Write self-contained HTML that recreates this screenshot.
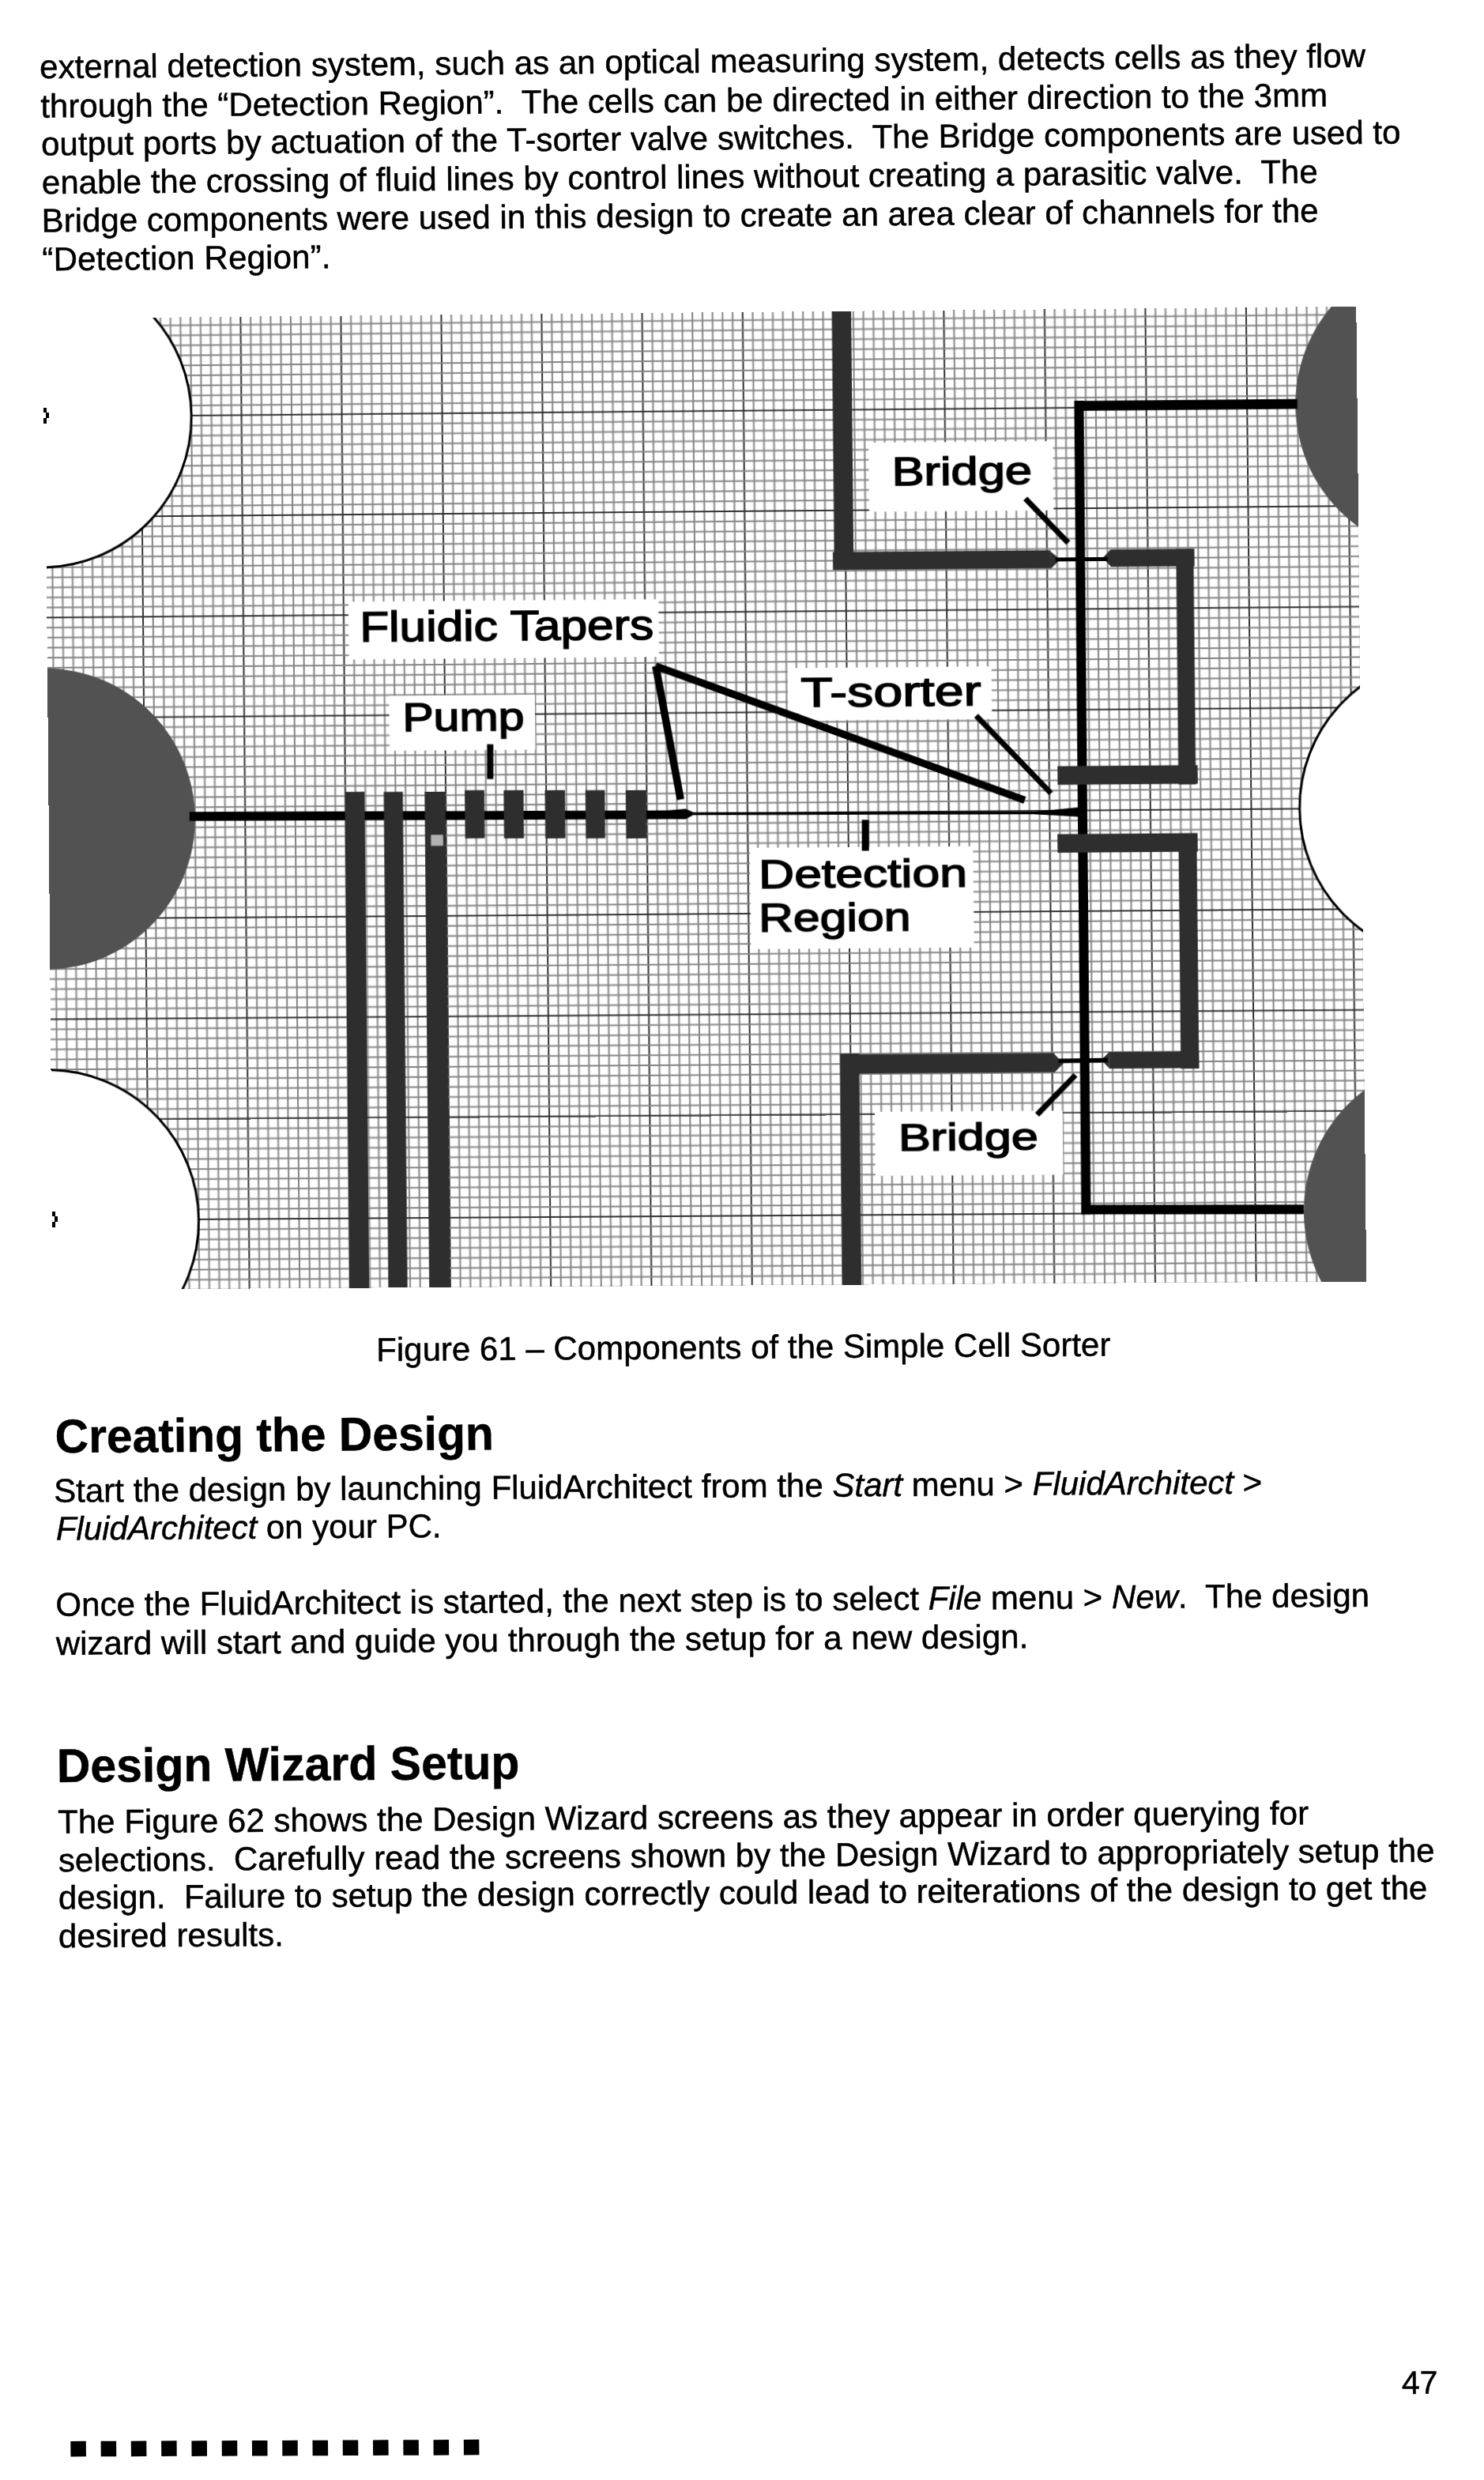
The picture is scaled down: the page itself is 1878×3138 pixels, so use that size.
<!DOCTYPE html>
<html><head><meta charset="utf-8"><title>Page 47</title>
<style>
html,body{margin:0;padding:0;background:#fff;}
body{width:1878px;height:3138px;overflow:hidden;position:relative;}
svg{display:block;overflow:visible;}
text{fill:#000;white-space:pre;}
.bt{stroke:#000;stroke-width:0.5px;}
.lt{stroke:#000;stroke-width:1.5px;}
</style>
</head><body>
<div id="fig" style="position:absolute;left:56.2px;top:403.2px;width:1661px;height:1231px;transform-origin:0 0;transform:matrix3d(0.9958419493,-0.009116905156,0,-2.250567851e-06,0.008925869559,0.9973442069,0,-9.049975988e-07,0,0,1,0,0,0,0,1);"><svg width="1661" height="1231" viewBox="0 0 1661 1231" font-family='"Liberation Sans", sans-serif'><defs>
<pattern id="grid" x="-6.2" y="-3.5" width="127.27" height="127.27" patternUnits="userSpaceOnUse"><rect width="127.27" height="127.27" fill="#fff"/><rect x="0.000" y="0" width="2" height="127.27" fill="#303030"/><rect x="12.727" y="0" width="2" height="127.27" fill="#838383"/><rect x="25.454" y="0" width="2" height="127.27" fill="#838383"/><rect x="38.181" y="0" width="2" height="127.27" fill="#838383"/><rect x="50.908" y="0" width="2" height="127.27" fill="#838383"/><rect x="63.635" y="0" width="2" height="127.27" fill="#838383"/><rect x="76.362" y="0" width="2" height="127.27" fill="#838383"/><rect x="89.089" y="0" width="2" height="127.27" fill="#838383"/><rect x="101.816" y="0" width="2" height="127.27" fill="#838383"/><rect x="114.543" y="0" width="2" height="127.27" fill="#838383"/><rect x="0" y="0.000" width="127.27" height="2" fill="#303030"/><rect x="0" y="12.727" width="127.27" height="2" fill="#838383"/><rect x="0" y="25.454" width="127.27" height="2" fill="#838383"/><rect x="0" y="38.181" width="127.27" height="2" fill="#838383"/><rect x="0" y="50.908" width="127.27" height="2" fill="#838383"/><rect x="0" y="63.635" width="127.27" height="2" fill="#838383"/><rect x="0" y="76.362" width="127.27" height="2" fill="#838383"/><rect x="0" y="89.089" width="127.27" height="2" fill="#838383"/><rect x="0" y="101.816" width="127.27" height="2" fill="#838383"/><rect x="0" y="114.543" width="127.27" height="2" fill="#838383"/><rect x="0" y="0" width="2" height="2" fill="#303030"/></pattern>
<clipPath id="fclip"><rect x="0" y="0" width="1661" height="1231"/></clipPath>
</defs><rect x="0" y="0" width="1661" height="1231" fill="url(#grid)"/>
<g clip-path="url(#fclip)">
<circle cx="-5.2" cy="124.8" r="191.0" fill="#fff" stroke="#000" stroke-width="3"/>
<circle cx="-5.2" cy="634.5" r="191.0" fill="#525252"/>
<circle cx="-5.2" cy="1143.5" r="191.0" fill="#fff" stroke="#000" stroke-width="3"/>
<circle cx="1774.0" cy="124.8" r="191.0" fill="#525252"/>
<circle cx="1774.0" cy="634.5" r="191.0" fill="#fff" stroke="#000" stroke-width="3"/>
<circle cx="1774.0" cy="1143.5" r="191.0" fill="#525252"/>
</g>
<polygon points="178.8,627.0 784.6,629.8 807.6,628.0 820.6,634.0 807.5,641.1 784.5,640.8 178.7,638.5" fill="#000"/>
<line x1="817.6" y1="634.2" x2="1245.1" y2="636.5" stroke="#000" stroke-width="3.5" stroke-linecap="butt"/>
<polygon points="1243.1,635.3 1306.0,629.7 1305.9,641.9 1243.1,637.9" fill="#000"/>
<line x1="1309.8" y1="116.0" x2="1308.4" y2="1144.3" stroke="#000" stroke-width="12" stroke-linecap="butt"/>
<line x1="1304.2" y1="122.5" x2="1585.5" y2="122.4" stroke="#000" stroke-width="12.5" stroke-linecap="butt"/>
<line x1="1302.9" y1="1138.0" x2="1582.9" y2="1139.6" stroke="#000" stroke-width="12" stroke-linecap="butt"/>
<g clip-path="url(#fclip)"><rect x="376.0" y="603.2" width="25.0" height="638.0" fill="#2e2e2e"/><rect x="425.3" y="603.6" width="24.3" height="638.0" fill="#2e2e2e"/><rect x="477.2" y="603.9" width="26.3" height="638.0" fill="#2e2e2e"/><rect x="528.0" y="602.3" width="24.8" height="61.0" fill="#2e2e2e"/><rect x="577.3" y="602.7" width="25.2" height="61.0" fill="#2e2e2e"/><rect x="629.5" y="603.1" width="25.4" height="61.0" fill="#2e2e2e"/><rect x="680.8" y="603.5" width="24.6" height="61.0" fill="#2e2e2e"/><rect x="731.9" y="603.9" width="25.9" height="61.0" fill="#2e2e2e"/><rect x="484.6" y="658.4" width="15.5" height="14.0" fill="#b0b0b0"/><rect x="998.5" y="-13.9" width="24.5" height="340.4" fill="#2e2e2e"/><rect x="996.8" y="304.7" width="275.1" height="22.8" fill="#2e2e2e"/><polygon points="1271.8,305.9 1284.2,316.4 1271.5,328.7" fill="#2e2e2e"/><rect x="1348.0" y="304.4" width="105.6" height="22.0" fill="#2e2e2e"/><polygon points="1348.2,303.9 1338.1,314.8 1348.0,325.9" fill="#2e2e2e"/><rect x="1430.5" y="304.5" width="22.0" height="297.6" fill="#2e2e2e"/><rect x="1278.0" y="577.7" width="176.9" height="23.6" fill="#2e2e2e"/><rect x="1277.1" y="663.6" width="176.9" height="23.5" fill="#2e2e2e"/><rect x="1429.8" y="663.9" width="23.0" height="297.0" fill="#2e2e2e"/><rect x="1339.5" y="939.3" width="113.5" height="21.0" fill="#2e2e2e"/><polygon points="1339.8,938.9 1329.7,949.3 1339.6,959.9" fill="#2e2e2e"/><rect x="999.6" y="939.0" width="24.3" height="306.4" fill="#2e2e2e"/><rect x="1000.8" y="940.1" width="269.5" height="24.2" fill="#2e2e2e"/><polygon points="1270.1,941.0 1281.8,953.2 1269.9,965.2" fill="#2e2e2e"/><line x1="1278.2" y1="316.5" x2="1344.1" y2="316.5" stroke="#000" stroke-width="5.2" stroke-linecap="butt"/><line x1="1275.8" y1="950.0" x2="1337.7" y2="949.5" stroke="#000" stroke-width="5.5" stroke-linecap="butt"/></g>
<rect x="382.7" y="362.5" width="393.0" height="73.0" fill="#fff"/>
<rect x="433.3" y="482.1" width="184.7" height="69.5" fill="#fff"/>
<rect x="938.3" y="451.0" width="257.6" height="66.5" fill="#fff"/>
<rect x="1043.4" y="166.6" width="233.0" height="87.6" fill="#fff"/>
<rect x="888.4" y="678.0" width="282.0" height="128.0" fill="#fff"/>
<rect x="1042.9" y="1012.8" width="237.2" height="80.9" fill="#fff"/>
<text class="lt" x="0" y="0" font-size="53.4" textLength="372.3" lengthAdjust="spacingAndGlyphs" transform="translate(396.9 412.9) scale(1.0 1)">Fluidic Tapers</text>
<text class="lt" x="0" y="0" font-size="49.6" textLength="154.4" lengthAdjust="spacingAndGlyphs" transform="translate(449.9 527.1) scale(1.0 1)">Pump</text>
<text class="lt" x="0" y="0" font-size="52.4" textLength="228.0" lengthAdjust="spacingAndGlyphs" transform="translate(954.5 499.9) scale(1.0 1)">T-sorter</text>
<text class="lt" x="0" y="0" font-size="50.4" textLength="177.3" lengthAdjust="spacingAndGlyphs" transform="translate(1072.4 221.2) scale(1.0 1)">Bridge</text>
<text class="lt" x="0" y="0" font-size="50.8" textLength="263.5" lengthAdjust="spacingAndGlyphs" transform="translate(899.1 728.8) scale(1.0 1)">Detection</text>
<text class="lt" x="0" y="0" font-size="50.8" textLength="192.1" lengthAdjust="spacingAndGlyphs" transform="translate(898.6 784.0) scale(1.0 1)">Region</text>
<text class="lt" x="0" y="0" font-size="48.3" textLength="176.5" lengthAdjust="spacingAndGlyphs" transform="translate(1072.4 1061.8) scale(1.0 1)">Bridge</text>
<line x1="560.8" y1="544.4" x2="560.4" y2="588.4" stroke="#000" stroke-width="8" stroke-linecap="butt"/>
<line x1="771.4" y1="447.1" x2="801.2" y2="616.1" stroke="#000" stroke-width="9.5" stroke-linecap="butt"/>
<line x1="771.4" y1="447.1" x2="1236.3" y2="620.4" stroke="#000" stroke-width="9.5" stroke-linecap="butt"/>
<line x1="1176.0" y1="513.1" x2="1269.5" y2="611.9" stroke="#000" stroke-width="7" stroke-linecap="butt"/>
<line x1="1240.9" y1="239.1" x2="1294.4" y2="295.5" stroke="#000" stroke-width="7" stroke-linecap="butt"/>
<line x1="1034.7" y1="643.6" x2="1034.3" y2="682.7" stroke="#000" stroke-width="9" stroke-linecap="butt"/>
<line x1="1247.9" y1="1017.7" x2="1296.8" y2="968.1" stroke="#000" stroke-width="7" stroke-linecap="butt"/></svg></div>
<svg style="position:absolute;left:0;top:0" width="1878" height="3138" viewBox="0 0 1878 3138" font-family='"Liberation Sans", sans-serif'>
<path d="M55 516h4v6h3v7h-3v-1h0v8h-4v-7h3v-7h-3z" fill="#000"/><path d="M66 1533h4v6h3v7h-3v-1h0v8h-4v-7h3v-7h-3z" fill="#000"/>
<text class="bt" x="50.32" y="99.10" font-size="42" textLength="1677.9" lengthAdjust="spacing" transform="rotate(-0.49 50.32 99.10)"><tspan>external detection system, such as an optical measuring system, detects cells as they flow</tspan></text>
<text class="bt" x="51.46" y="148.70" font-size="42" transform="rotate(-0.49 51.46 148.70)"><tspan>through the “Detection Region”.  The cells can be directed in either direction to the 3mm</tspan></text>
<text class="bt" x="52.24" y="196.60" font-size="42" textLength="1720.5" lengthAdjust="spacing" transform="rotate(-0.5 52.24 196.60)"><tspan>output ports by actuation of the T-sorter valve switches.  The Bridge components are used to</tspan></text>
<text class="bt" x="53.12" y="245.30" font-size="42" transform="rotate(-0.49 53.12 245.30)"><tspan>enable the crossing of fluid lines by control lines without creating a parasitic valve.  The</tspan></text>
<text class="bt" x="52.75" y="293.60" font-size="42" textLength="1616.0" lengthAdjust="spacing" transform="rotate(-0.45 52.75 293.60)"><tspan>Bridge components were used in this design to create an area clear of channels for the</tspan></text>
<text class="bt" x="53.56" y="342.30" font-size="42" textLength="365.1" lengthAdjust="spacing" transform="rotate(-0.49 53.56 342.30)"><tspan>“Detection Region”.</tspan></text>
<text class="bt" x="476.35" y="1722.20" font-size="42" transform="rotate(-0.41 476.35 1722.20)"><tspan>Figure 61 – Components of the Simple Cell Sorter</tspan></text>
<text class="bt" x="69.74" y="1838.10" font-size="60" textLength="555.3" lengthAdjust="spacingAndGlyphs" transform="rotate(-0.41 69.74 1838.10)"><tspan font-weight="bold">Creating the Design</tspan></text>
<text class="bt" x="68.29" y="1900.70" font-size="42" transform="rotate(-0.41 68.29 1900.70)"><tspan>Start the design by launching FluidArchitect from the </tspan><tspan font-style="italic">Start</tspan><tspan> menu &gt; </tspan><tspan font-style="italic">FluidArchitect</tspan><tspan> &gt;</tspan></text>
<text class="bt" x="70.91" y="1948.60" font-size="42" transform="rotate(-0.41 70.91 1948.60)"><tspan font-style="italic">FluidArchitect</tspan><tspan> on your PC.</tspan></text>
<text class="bt" x="70.61" y="2044.70" font-size="42" transform="rotate(-0.41 70.61 2044.70)"><tspan>Once the FluidArchitect is started, the next step is to select </tspan><tspan font-style="italic">File</tspan><tspan> menu &gt; </tspan><tspan font-style="italic">New</tspan><tspan>.  The design</tspan></text>
<text class="bt" x="70.96" y="2093.90" font-size="42" transform="rotate(-0.41 70.96 2093.90)"><tspan>wizard will start and guide you through the setup for a new design.</tspan></text>
<text class="bt" x="71.89" y="2255.00" font-size="60" textLength="585.7" lengthAdjust="spacingAndGlyphs" transform="rotate(-0.41 71.89 2255.00)"><tspan font-weight="bold">Design Wizard Setup</tspan></text>
<text class="bt" x="73.36" y="2319.70" font-size="42" transform="rotate(-0.41 73.36 2319.70)"><tspan>The Figure 62 shows the Design Wizard screens as they appear in order querying for</tspan></text>
<text class="bt" x="74.13" y="2368.20" font-size="42" transform="rotate(-0.41 74.13 2368.20)"><tspan>selections.  Carefully read the screens shown by the Design Wizard to appropriately setup the</tspan></text>
<text class="bt" x="74.14" y="2415.40" font-size="42" transform="rotate(-0.41 74.14 2415.40)"><tspan>design.  Failure to setup the design correctly could lead to reiterations of the design to get the</tspan></text>
<text class="bt" x="74.14" y="2464.20" font-size="42" transform="rotate(-0.41 74.14 2464.20)"><tspan>desired results.</tspan></text>
<text class="bt" x="1774.06" y="3029.00" font-size="41" transform="rotate(-0.41 1774.06 3029.00)"><tspan>47</tspan></text>
<rect x="89.3" y="3089.0" width="19.5" height="19.5" fill="#000" transform="rotate(-0.41 89.3 3089.0)"/><rect x="127.6" y="3088.8" width="19.5" height="19.5" fill="#000" transform="rotate(-0.41 127.6 3088.8)"/><rect x="165.8" y="3088.7" width="19.5" height="19.5" fill="#000" transform="rotate(-0.41 165.8 3088.7)"/><rect x="204.1" y="3088.5" width="19.5" height="19.5" fill="#000" transform="rotate(-0.41 204.1 3088.5)"/><rect x="242.4" y="3088.4" width="19.5" height="19.5" fill="#000" transform="rotate(-0.41 242.4 3088.4)"/><rect x="280.7" y="3088.2" width="19.5" height="19.5" fill="#000" transform="rotate(-0.41 280.7 3088.2)"/><rect x="318.9" y="3088.1" width="19.5" height="19.5" fill="#000" transform="rotate(-0.41 318.9 3088.1)"/><rect x="357.2" y="3087.9" width="19.5" height="19.5" fill="#000" transform="rotate(-0.41 357.2 3087.9)"/><rect x="395.5" y="3087.8" width="19.5" height="19.5" fill="#000" transform="rotate(-0.41 395.5 3087.8)"/><rect x="433.7" y="3087.6" width="19.5" height="19.5" fill="#000" transform="rotate(-0.41 433.7 3087.6)"/><rect x="472.0" y="3087.5" width="19.5" height="19.5" fill="#000" transform="rotate(-0.41 472.0 3087.5)"/><rect x="510.3" y="3087.3" width="19.5" height="19.5" fill="#000" transform="rotate(-0.41 510.3 3087.3)"/><rect x="548.5" y="3087.2" width="19.5" height="19.5" fill="#000" transform="rotate(-0.41 548.5 3087.2)"/><rect x="586.8" y="3087.0" width="19.5" height="19.5" fill="#000" transform="rotate(-0.41 586.8 3087.0)"/>
</svg>
</body></html>
